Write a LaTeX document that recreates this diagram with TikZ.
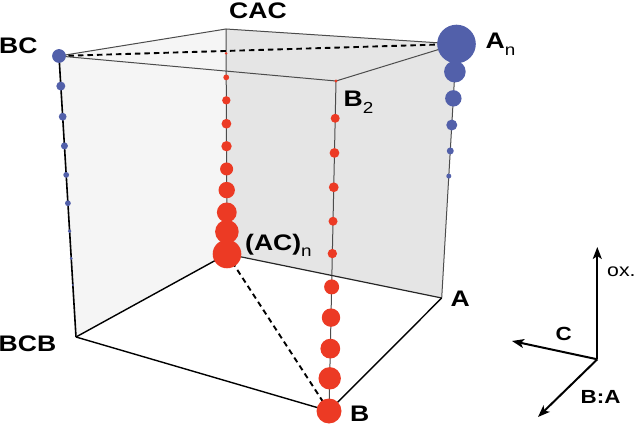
\documentclass[tikz,border=0pt]{standalone}
\usepackage{fontspec}
\setmainfont[FakeStretch=1.18]{Liberation Sans}
\usetikzlibrary{arrows.meta,calc,positioning}
\definecolor{dotred}{RGB}{236,58,36}
\definecolor{dotblue}{RGB}{82,96,170}
\newcommand{\lsub}[2][7pt]{\raisebox{-#1}{\fontsize{16}{16}\selectfont\mdseries #2}}

\begin{document}
\begin{tikzpicture}[x=1pt,y=-1pt,
	edge/.style={draw=black!70,line width=1pt},
	front edge/.style={draw=black,line width=1.4pt},
	hidden/.style={draw=black,line width=1.9pt,dash pattern=on 5.5pt off 4pt},
	lbl/.style={inner sep=0pt,anchor=base west,font=\fontsize{22.5}{24}\selectfont\bfseries},
	axis lbl/.style={inner sep=0pt,anchor=base west,font=\fontsize{19}{20}\selectfont\bfseries},
	axis/.style={line width=2pt,-{Stealth[length=12pt,width=9pt,inset=3pt]}},
	red dot/.style={fill=dotred},
	blue dot/.style={fill=dotblue}]
\useasboundingbox (0,0) rectangle (638,425);
% corners of the cube
\coordinate (bc) at (59,56);
\coordinate (cac) at (226,29);
\coordinate (an) at (456.5,44);
\coordinate (btwo) at (336,81);
\coordinate (bcb) at (76,337);
\coordinate (acn) at (227,254);
\coordinate (a) at (441.7,298);
\coordinate (b) at (329,411);
% faces
\fill[black!5] (bc) -- (cac) -- (an) -- (btwo) -- cycle;
\fill[black!4] (bc) -- (cac) -- (acn) -- (bcb) -- cycle;
\fill[black!10] (cac) -- (an) -- (a) -- (acn) -- cycle;
% edges
\draw[edge] (bc) -- (cac) -- (an) -- (btwo) -- (bc);
\draw[edge] (cac) -- (acn);
\draw[edge] (btwo) -- (b);
\draw[edge] (an) -- (a);
\draw[edge,draw=black!85,line width=1.2pt] (acn) -- (a);
\draw[front edge,line width=1.6pt] (bc) -- (bcb);
\draw[front edge] (bcb) -- (acn);
\draw[front edge] (a) -- (b) -- (bcb);
\draw[hidden] (bc) -- (an);
\draw[hidden] (acn) -- (b);
% dots
\foreach \t/\r in {0.108/1.4, 0.215/2.9, 0.317/4.2, 0.421/4.9, 0.521/5.2, 0.622/6.5, 0.716/8.2, 0.815/9.9, 0.901/11.8, 1/14.3}
	\fill[red dot] ($(cac)!\t!(acn)$) circle[radius=\r pt];
\foreach \t/\r in {0/1.6, 0.113/4.5, 0.218/4.9, 0.322/4.9, 0.425/4.5, 0.523/4.7, 0.624/7.5, 0.717/9.2, 0.811/9.9, 0.901/11.2, 1/12.5}
	\fill[red dot] ($(btwo)!\t!(b)$) circle[radius=\r pt];
\foreach \t/\r in {0/6.9, 0.107/4.5, 0.216/3.9, 0.320/3.5, 0.423/2.9, 0.524/2.9, 0.623/1.9, 0.720/1.5, 0.815/1}
	\fill[blue dot] ($(bc)!\t!(bcb)$) circle[radius=\r pt];
\foreach \t/\r in {0.520/2.5, 0.421/3.5, 0.319/5.5, 0.214/8.2, 0.109/10.8, 0/19.3}
	\fill[blue dot] ($(an)!\t!(a)$) circle[radius=\r pt];
% labels
\node[lbl] (lbc) at (-1,54) {BC};
\node[lbl] (lcac) at (229,18.5) {CAC};
\node[lbl] (lan) at (485.5,49) {A\lsub{n}};
\node[lbl] (lbtwo) at (343.5,107) {B\lsub{2}};
\node[lbl] (lacn) at (245,250.5) {(AC)\lsub[6pt]{n}};
\node[lbl] (lbcb) at (-1.5,351.5) {BCB};
\node[lbl] (la) at (450.5,306.5) {A};
\node[lbl] (lb) at (350,421) {B};
% axes
\coordinate (o) at (597.3,359.3);
\coordinate (ox) at (597.3,247);
\coordinate (c) at (512,341);
\coordinate (ba) at (538,417);
\draw[axis] (o) -- (ox);
\draw[axis] (o) -- (c);
\draw[axis] (o) -- (ba);
\node[axis lbl] (lc) at (555.5,340) {C};
\node[axis lbl] (lba) at (580.5,403.3) {B:A};
\node[inner sep=0pt,anchor=base west,font=\fontsize{18}{19}\selectfont] (lox) at (607,276.5) {ox.};
\end{tikzpicture}
\end{document}
